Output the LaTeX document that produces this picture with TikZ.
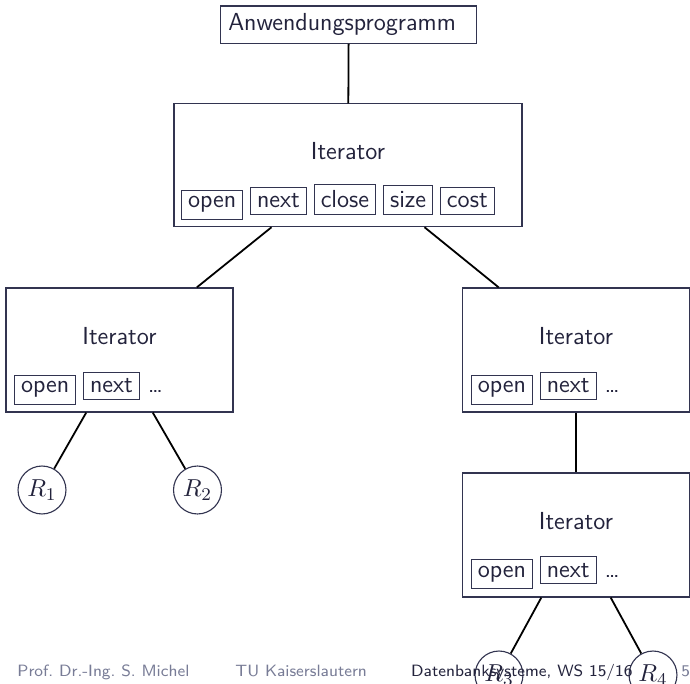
\documentclass[tikz,border=0pt]{standalone}
\usepackage{tikz}
\usetikzlibrary{positioning}
\definecolor{slidetext}{RGB}{35,35,60}
\definecolor{framecol}{RGB}{50,52,80}
\definecolor{footgray}{RGB}{120,124,150}

\begin{document}
\begin{tikzpicture}[x=0.4464pt, y=-0.4464pt, node distance=3pt,
  every node/.style={font=\sffamily\fontsize{11}{13}\selectfont, text=slidetext},
  iterbox/.style={draw=framecol, line width=0.5pt, minimum width=101.3pt, minimum height=55.4pt},
  opbox/.style={draw=framecol, line width=0.5pt, inner sep=2.9pt},
  rel/.style={draw=framecol, line width=0.5pt, circle, minimum size=21.4pt, inner sep=0pt},
  link/.style={line width=0.8pt},
  foot/.style={font=\sffamily\fontsize{7.3}{9}\selectfont, anchor=base west, inner sep=0pt, text=footgray}]
  \useasboundingbox (0,0) rectangle (690,684);

  % Anwendung oben
  \node[draw=framecol, line width=0.5pt, text width=107.5pt, inner sep=3.4pt, minimum height=16.7pt] (app) at (348.7,24.7) {Anwendungsprogramm};

  % Wurzel-Iterator
  \node[iterbox, minimum width=155.3pt, minimum height=54.8pt] (top) at (348,165.3) {};
  \node[anchor=base] (topname) at (348,160) {Iterator};
  \node[opbox, anchor=base west] (topopen) at (181,208) {open};
  \node[opbox, base right=of topopen] (topnext) {next};
  \node[opbox, base right=of topnext] (topclose) {close};
  \node[opbox, base right=of topclose] (topsize) {size};
  \node[opbox, base right=of topsize] (topcost) {cost};

  % linker Iterator
  \node[iterbox] (left) at (119.5,350) {};
  \node[anchor=base] (leftname) at (119.5,344.3) {Iterator};
  \node[opbox, anchor=base west] (leftopen) at (14,393) {open};
  \node[opbox, base right=of leftopen] (leftnext) {next};
  \node[base right=0pt of leftnext] (leftdots) {\dots};

  % rechter Iterator
  \node[iterbox] (right) at (576,350) {};
  \node[anchor=base] (rightname) at (576,344.3) {Iterator};
  \node[opbox, anchor=base west] (rightopen) at (470.7,393) {open};
  \node[opbox, base right=of rightopen] (rightnext) {next};
  \node[base right=0pt of rightnext] (rightdots) {\dots};

  % unterer Iterator
  \node[iterbox] (low) at (576,535) {};
  \node[anchor=base] (lowname) at (576,529.3) {Iterator};
  \node[opbox, anchor=base west] (lowopen) at (470.7,577) {open};
  \node[opbox, base right=of lowopen] (lownext) {next};
  \node[base right=0pt of lownext] (lowdots) {\dots};

  % Relationen
  \node[rel] (r1) at (42,490) {$R_1$};
  \node[rel] (r2) at (197.5,490) {$R_2$};
  \node[rel] (r3) at (499,675) {$R_3$};
  \node[rel] (r4) at (653,675) {$R_4$};

  \draw[link] (app) -- (top);
  \draw[link] (top.219) -- (left.39);
  \draw[link] (top.321) -- (right.141);
  \draw[link] (left.242) -- (r1);
  \draw[link] (left.298) -- (r2);
  \draw[link] (right) -- (low);
  \draw[link] (low.241) -- (r3);
  \draw[link] (low.299) -- (r4);

  % Fusszeile
  \node[foot] (author) at (17,676.7) {Prof.\ Dr.-Ing.\ S.\ Michel};
  \node[foot] (uni) at (235,676.7) {TU Kaiserslautern};
  \node[foot, text=slidetext] (course) at (410.7,676.7) {Datenbanksysteme, WS 15/16};
  \node[foot] (page) at (681,676.7) {5};
\end{tikzpicture}
\end{document}
